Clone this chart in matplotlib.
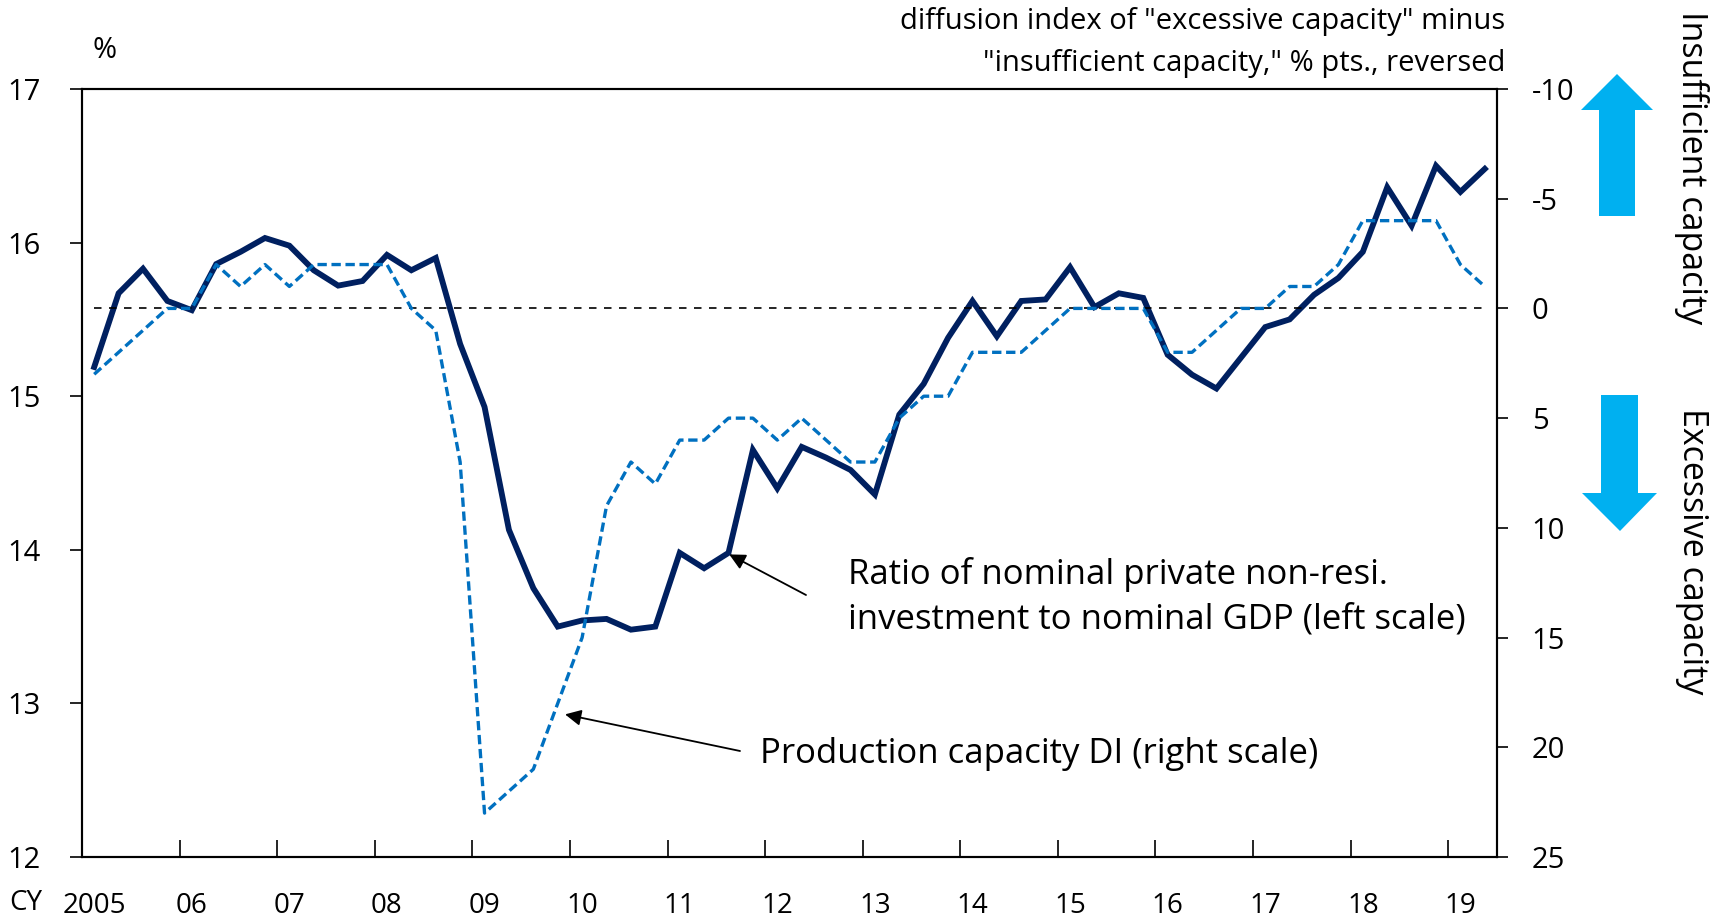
"""Business fixed investment ratio vs Tankan production capacity DI, 2005-2019.

Quarterly series from CY2005 Q1 to CY2019 Q2: the nominal private non-resi.
investment / nominal GDP ratio on the left scale, and the production capacity
DI on a reversed right scale (up = insufficient capacity).
"""

import matplotlib

matplotlib.use("Agg")  # headless: saved, never displayed
import matplotlib.pyplot as plt
from matplotlib.patches import Polygon

# --- data ---------------------------------------------------------------------
YEAR_LABELS = ["2005", "06", "07", "08", "09", "10", "11", "12", "13", "14",
               "15", "16", "17", "18", "19"]

# ratio of nominal private non-resi. investment to nominal GDP, %, 2005Q1..2019Q2
INVESTMENT_RATIO = [
    15.19, 15.67, 15.83, 15.62,   # 2005
    15.56, 15.86, 15.94, 16.03,   # 2006
    15.98, 15.82, 15.72, 15.75,   # 2007
    15.92, 15.82, 15.90, 15.34,   # 2008
    14.93, 14.13, 13.75, 13.50,   # 2009
    13.54, 13.55, 13.48, 13.50,   # 2010
    13.98, 13.88, 13.98, 14.65,   # 2011
    14.40, 14.67, 14.60, 14.52,   # 2012
    14.36, 14.88, 15.08, 15.38,   # 2013
    15.62, 15.39, 15.62, 15.63,   # 2014
    15.84, 15.58, 15.67, 15.64,   # 2015
    15.27, 15.14, 15.05, 15.25,   # 2016
    15.45, 15.50, 15.66, 15.77,   # 2017
    15.94, 16.36, 16.11, 16.50,   # 2018
    16.33, 16.48,                 # 2019
]

# production capacity DI, "excessive" minus "insufficient", % pts.
CAPACITY_DI = [
    3, 2, 1, 0,
    0, -2, -1, -2,
    -1, -2, -2, -2,
    -2, 0, 1, 7,
    23, 22, 21, 18,
    15, 9, 7, 8,
    6, 6, 5, 5,
    6, 5, 6, 7,
    7, 5, 4, 4,
    2, 2, 2, 1,
    0, 0, 0, 0,
    2, 2, 1, 0,
    0, -1, -1, -2,
    -4, -4, -4, -4,
    -2, -1,
]

LEFT_TICKS = [12, 13, 14, 15, 16, 17]
RIGHT_TICKS = [-10, -5, 0, 5, 10, 15, 20, 25]

NAVY = "#002060"
BLUE = "#0070C0"
CYAN = "#00B0F0"
FONT = "Open Sans"

W, H = 1727, 918


def main() -> None:
    plt.rcParams["font.family"] = [FONT, "DejaVu Sans"]
    plt.rcParams["axes.unicode_minus"] = False

    fig = plt.figure(figsize=(W / 100, H / 100), dpi=100)
    left, right, top, bottom = 82, 1497, 89, 857
    ax = fig.add_axes([left / W, 1 - bottom / H, (right - left) / W, (bottom - top) / H])
    ax2 = ax.twinx()

    n = len(INVESTMENT_RATIO)
    x = list(range(n))

    ax.plot(x, INVESTMENT_RATIO, color=NAVY, linewidth=4.2, solid_joinstyle="miter",
            zorder=3)
    ax2.hlines(0, x[0], x[-1], colors="black", linewidth=1.2,
               linestyles=(0, (4.5, 4.5)), zorder=2)
    ax2.plot(x, CAPACITY_DI, color=BLUE, linewidth=2.4, linestyle=(0, (2.8, 1.4)),
             zorder=4)

    ax.set_xlim(-0.5, n - 0.5)
    ax.set_ylim(12, 17)
    ax2.set_ylim(25, -10)

    # year boundaries carry the ticks, Q1 positions carry the labels
    ax.set_xticks([4 * k - 0.5 for k in range(1, len(YEAR_LABELS))])
    ax.set_xticklabels([])
    ax.set_xticks([4 * k for k in range(len(YEAR_LABELS))], minor=True)
    ax.set_xticklabels(YEAR_LABELS, minor=True, fontsize=20)
    ax.tick_params(axis="x", which="major", direction="in", length=12, width=1.2)
    ax.tick_params(axis="x", which="minor", length=0, pad=25)

    ax.set_yticks(LEFT_TICKS)
    ax.tick_params(axis="y", direction="out", length=8.5, width=1.2, pad=21,
                   labelsize=21)
    ax2.set_yticks(RIGHT_TICKS)
    ax2.set_yticklabels([str(v) for v in RIGHT_TICKS])
    ax2.tick_params(axis="y", direction="out", length=8, width=1.2, pad=17,
                    labelsize=21)

    for a in (ax, ax2):
        for sp in a.spines.values():
            sp.set_linewidth(1.5)

    # annotations pointing at the two series
    ax.annotate("", xy=(26.03, 13.97), xytext=(806, H - 595),
                textcoords="figure pixels",
                arrowprops=dict(arrowstyle="-|>", color="black", lw=1.3,
                                mutation_scale=24, shrinkA=0, shrinkB=0))
    ax2.annotate("", xy=(19.3, 18.5), xytext=(740, H - 751),
                 textcoords="figure pixels",
                 arrowprops=dict(arrowstyle="-|>", color="black", lw=1.3,
                                 mutation_scale=24, shrinkA=0, shrinkB=0))

    # overlay in figure pixels for free-standing labels and block arrows
    ov = fig.add_axes([0, 0, 1, 1], zorder=10)
    ov.set_xlim(0, W)
    ov.set_ylim(H, 0)
    ov.axis("off")

    ov.text(848, 597, "Ratio of nominal private non-resi.\n"
            "investment to nominal GDP (left scale)",
            fontsize=25, ha="left", va="center", linespacing=1.4)
    ov.text(760, 754, "Production capacity DI (right scale)",
            fontsize=25, ha="left", va="center")

    ov.text(105, 50, "%", fontsize=21, ha="center", va="center")
    ov.text(26, 903, "CY", fontsize=20, ha="center", va="center")
    ov.text(1505, 22, 'diffusion index of "excessive capacity" minus',
            fontsize=21, ha="right", va="center")
    ov.text(1505, 63, '"insufficient capacity," % pts., reversed',
            fontsize=21, ha="right", va="center")

    up = [(1617, 74), (1653, 110), (1635, 110), (1635, 216), (1599, 216),
          (1599, 110), (1581, 110)]
    down = [(1601, 395), (1638, 395), (1638, 493), (1657, 493), (1620, 531),
            (1582, 493), (1601, 493)]
    ov.add_patch(Polygon(up, closed=True, facecolor=CYAN, edgecolor="none"))
    ov.add_patch(Polygon(down, closed=True, facecolor=CYAN, edgecolor="none"))
    ov.text(1692, 168, "Insufficient capacity", fontsize=24.5, rotation=-90,
            ha="center", va="center")
    ov.text(1692, 551, "Excessive capacity", fontsize=24.5, rotation=-90,
            ha="center", va="center")

    fig.savefig("out.png", dpi=100)
    plt.close(fig)


if __name__ == "__main__":
    main()
